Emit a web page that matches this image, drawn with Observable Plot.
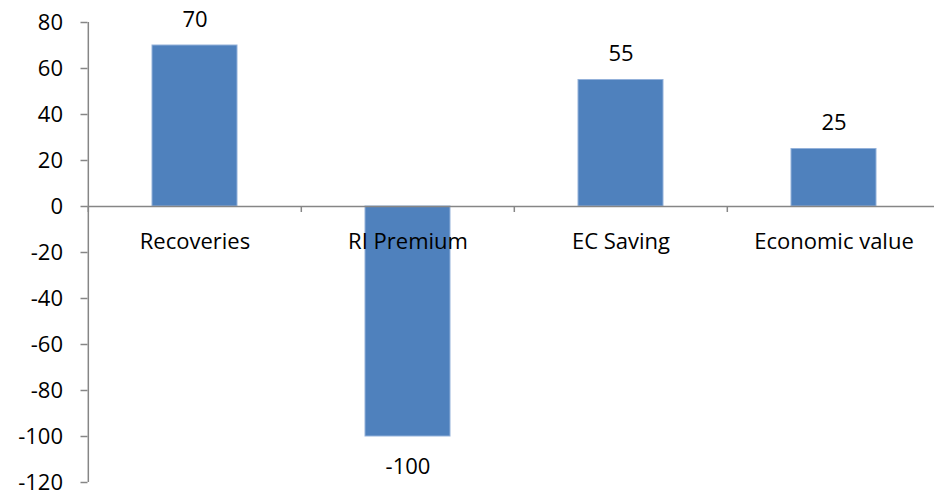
<!DOCTYPE html>
<html>
<head>
<meta charset="utf-8">
<script src="https://cdn.jsdelivr.net/npm/d3@7"></script>
<script src="https://cdn.jsdelivr.net/npm/@observablehq/plot@0.6"></script>
<style>
  body { margin: 0; background: #fff; }
</style>
</head>
<body>
<div id="chart"></div>
<script>
// Value bridge: components of economic value
const categories = ["Recoveries", "RI Premium", "EC Saving", "Economic value"];
const values = [70, -100, 55, 25];
const yTicks = [80, 60, 40, 20, 0, -20, -40, -60, -80, -100, -120];

const data = categories.map((category, i) => ({category, value: values[i]}));

const width = 934;
const height = 492;
const marginLeft = 87.5;
const marginRight = -7;
const step = (width - marginLeft - marginRight) / categories.length;

const axisColor = "#868686";
const barColor = "#4F81BD";
const textColor = "#000";
const fontSize = 22;

const chart = Plot.plot({
  width,
  height,
  marginLeft,
  marginRight,
  marginTop: 22,
  marginBottom: 10,
  style: {
    fontFamily: "'Open Sans', sans-serif",
    fontSize: `${fontSize}px`,
    color: textColor,
    background: "#fff",
    overflow: "visible"
  },
  x: {domain: categories, paddingInner: 0.6, paddingOuter: 0.3, axis: null},
  y: {domain: [-120, 80], axis: null},
  marks: [
    Plot.barY(data, {x: "category", y: "value", fill: barColor, stroke: "#93B1DA", strokeWidth: 1}),
    // zero baseline with category separators
    Plot.ruleY([0], {stroke: axisColor, strokeWidth: 1.5}),
    Plot.ruleX(categories, {x: d => d, dx: -step / 2, y1: 0, y2: 0, insetBottom: -6, stroke: axisColor, strokeWidth: 1.5}),
    // vertical value axis
    Plot.ruleX([categories[0]], {x: d => d, dx: -step / 2, y1: -120, y2: 80, stroke: axisColor, strokeWidth: 1.5}),
    Plot.axisY({ticks: yTicks, label: null, tickSize: 7, tickPadding: 18, tickFormat: d => String(d), stroke: axisColor, fill: textColor, strokeWidth: 1.5, fontSize}),
    // category names just under the baseline
    Plot.text(data, {x: "category", y: 0, text: "category", dy: 35, fill: textColor, fontSize}),
    // value labels
    Plot.text(data.filter(d => d.value >= 0), {x: "category", y: "value", text: d => String(d.value), dy: -26, fill: textColor, fontSize}),
    Plot.text(data.filter(d => d.value < 0), {x: "category", y: "value", text: d => String(d.value), dy: 30, fill: textColor, fontSize})
  ]
});

document.getElementById("chart").appendChild(chart);
</script>
</body>
</html>
